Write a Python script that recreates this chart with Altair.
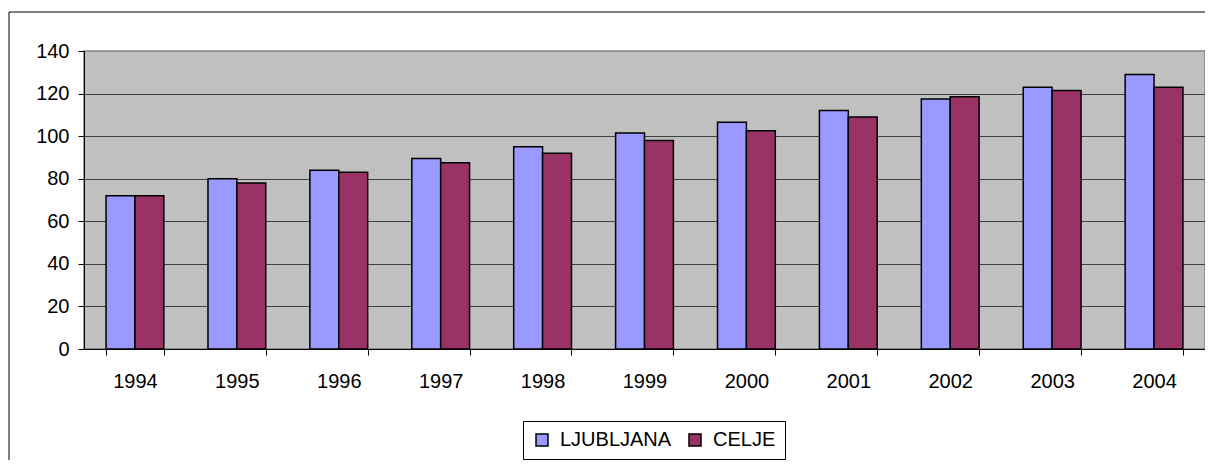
import altair as alt
import pandas as pd

years = ["1994", "1995", "1996", "1997", "1998", "1999", "2000", "2001", "2002", "2003", "2004"]
series_names = ["LJUBLJANA", "CELJE"]
ljubljana = [72, 80, 84, 89.5, 95, 101.5, 106.5, 112, 117.5, 123, 129]
celje = [72, 78, 83, 87.5, 92, 98, 102.5, 109, 118.5, 121.5, 123]
colors = ["#9999FF", "#993366"]
y_ticks = [0, 20, 40, 60, 80, 100, 120, 140]

rows = []
for i, y in enumerate(years):
    rows.append({"year": y, "series": series_names[0], "value": ljubljana[i]})
    rows.append({"year": y, "series": series_names[1], "value": celje[i]})
df = pd.DataFrame(rows)

FONT = "Liberation Sans"

border = alt.Chart(pd.DataFrame({"a": [0]})).mark_rect(
    fill="white", fillOpacity=0, stroke="black", strokeWidth=1
).encode(
    x=alt.value(-75), x2=alt.value(1300), y=alt.value(-39), y2=alt.value(600)
)

bars = alt.Chart(df).mark_bar(stroke="black", strokeWidth=1.5).encode(
    x=alt.X(
        "year:N",
        sort=years,
        scale=alt.Scale(paddingInner=0.433, paddingOuter=0.2165),
        axis=alt.Axis(
            title=None, labelAngle=0, tickBand="extent", grid=False,
            domainColor="black", domainWidth=1, tickColor="black", tickSize=6,
            labelFontSize=20, labelFont=FONT, labelColor="black", labelPadding=16,
        ),
    ),
    xOffset=alt.XOffset(
        "series:N", sort=series_names,
        scale=alt.Scale(domain=series_names, paddingInner=0, paddingOuter=0),
    ),
    y=alt.Y(
        "value:Q",
        scale=alt.Scale(domain=[0, 140], nice=False),
        axis=alt.Axis(
            title=None, values=y_ticks, grid=True,
            gridColor="#404040", gridWidth=1,
            gridOpacity=alt.condition("datum.value == 140", alt.value(0), alt.value(1)),
            domainColor="black", domainWidth=1, tickColor="black", tickSize=6,
            labelFontSize=20, labelFont=FONT, labelColor="black", labelPadding=9,
        ),
    ),
    color=alt.Color(
        "series:N",
        scale=alt.Scale(domain=series_names, range=colors),
        legend=alt.Legend(
            title=None, orient="none", legendX=439, legendY=370,
            direction="horizontal", strokeColor="black", fillColor="white",
            padding=9, labelFontSize=20, labelFont=FONT, labelColor="black",
            symbolType="square", symbolSize=144, symbolStrokeColor="black",
            symbolStrokeWidth=1.5, labelOffset=8, columnPadding=13,
        ),
    ),
)

chart = alt.layer(border, bars).properties(
    width=1121, height=298,
    autosize=alt.AutoSizeParams(type="none"),
    padding={"left": 76, "top": 43, "right": 0, "bottom": 111},
    background="white",
).configure_view(
    fill="#C0C0C0", stroke="#808080", strokeWidth=1.5
)

chart.save("out.html", embed_options={"renderer": "svg", "actions": False})
